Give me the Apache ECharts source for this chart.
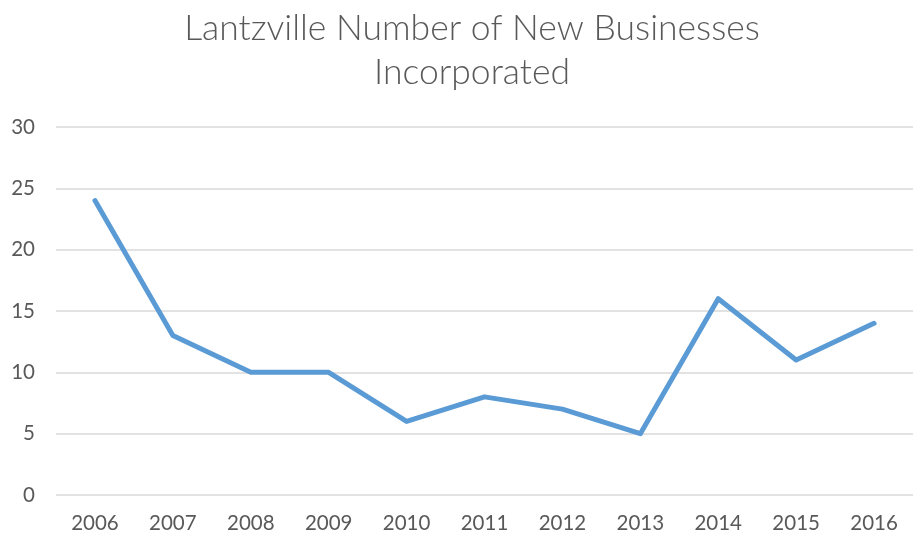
<!DOCTYPE html>
<html lang="en">
<head>
    <meta charset="UTF-8">
    <title>Lantzville</title>
    <script type="text/javascript" src="https://cdn.jsdelivr.net/npm/echarts@6/dist/echarts.min.js"></script>
</head>
<body style="margin:0">
<div id="main" style="width: 913px;height: 538px"></div>
</body>
<script>
    var years = ["2006", "2007", "2008", "2009", "2010", "2011", "2012", "2013", "2014", "2015", "2016"]
    var businesses = [24, 13, 10, 10, 6, 8, 7, 5, 16, 11, 14]

    var myChart = echarts.init(document.getElementById("main"))
    myChart.setOption({
        animation: false,
        title: {
            text: "Lantzville Number of New Businesses\nIncorporated",
            left: 467,
            textAlign: "center",
            top: 2,
            textStyle: {
                fontFamily: "Lato",
                fontWeight: 300,
                fontSize: 35.5,
                color: "#595959",
                lineHeight: 44
            }
        },
        grid: {
            left: 56,
            top: 127,
            bottom: 43,
            width: 869
        },
        xAxis: {
            type: "category",
            data: years,
            axisLine: {show: false},
            axisTick: {show: false},
            axisLabel: {
                fontFamily: "Lato",
                fontSize: 20.5,
                color: "#595959",
                margin: 18
            }
        },
        yAxis: {
            type: "value",
            min: 0,
            max: 30,
            interval: 5,
            axisLabel: {
                fontFamily: "Lato",
                fontSize: 20.5,
                color: "#595959",
                margin: 21
            },
            splitLine: {lineStyle: {color: "#d9d9d9", width: 1.5}}
        },
        series: [{
            name: "New Businesses",
            type: "line",
            data: businesses,
            symbol: "none",
            lineStyle: {color: "#5b9bd5", width: 5, cap: "round", join: "round"}
        }]
    });
</script>
</html>
